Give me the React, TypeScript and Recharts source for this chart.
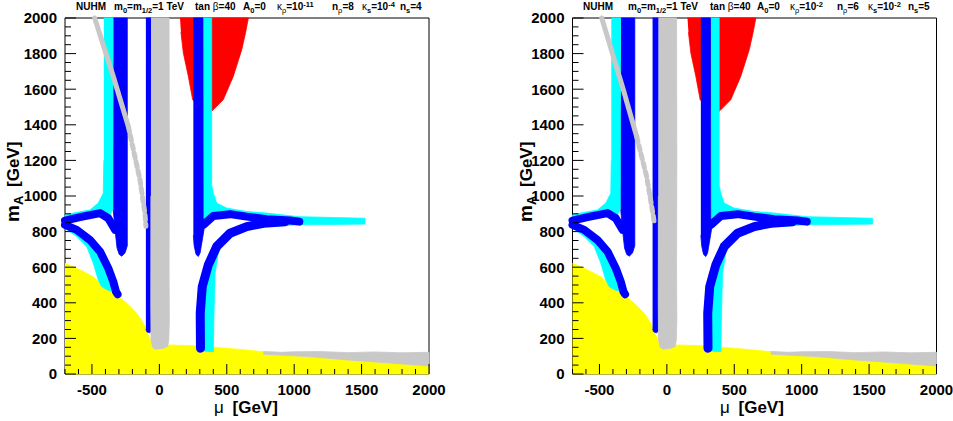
import React from 'react';
import { ScatterChart, Scatter, XAxis, YAxis, ReferenceLine } from 'recharts';

type P = [number, number];

// ---- axis ticks ----
const xTicks = [-700, -600, -500, -400, -300, -200, -100, 0, 100, 200, 300, 400, 500, 600, 700, 800, 900, 1000, 1100, 1200, 1300, 1400, 1500, 1600, 1700, 1800, 1900, 2000];
const xLabels = [-500, 0, 500, 1000, 1500, 2000];
const yTicks = [0, 50, 100, 150, 200, 250, 300, 350, 400, 450, 500, 550, 600, 650, 700, 750, 800, 850, 900, 950, 1000, 1050, 1100, 1150, 1200, 1250, 1300, 1350, 1400, 1450, 1500, 1550, 1600, 1650, 1700, 1750, 1800, 1850, 1900, 1950, 2000];
const yLabels = [0, 200, 400, 600, 800, 1000, 1200, 1400, 1600, 1800, 2000];

// ---- regions (mu, mA) in GeV ----
const yellow: P[] = [[-700, 622], [-613, 594], [-490, 547], [-416, 491], [-317, 444], [-242, 398], [-168, 341], [-119, 285], [-82, 219], [-45, 154], [-20, 139], [79, 163], [252, 159], [425, 149], [598, 138], [771, 125], [800, 112], [1100, 98], [1400, 79], [1700, 62], [2000, 45], [2000, 0], [-700, 0]];
const greyBottom: P[] = [[771, 127], [900, 122], [1000, 125], [1200, 126], [1400, 120], [1600, 124], [1800, 119], [2000, 122], [2000, 45], [1700, 62], [1400, 79], [1100, 98], [800, 110], [771, 112]];
const greyVertical: P[] = [[-62, 2000], [72, 2000], [74, 1200], [72, 600], [74, 300], [70, 190], [62, 155], [30, 145], [-30, 139], [-50, 150], [-62, 190], [-64, 400], [-63, 1000]];
const red: P[] = [[153, 2000], [660, 2000], [640, 1920], [611, 1822], [548, 1672], [474, 1541], [400, 1484], [380, 1470], [300, 1500], [247, 1541], [215, 1672], [178, 1803], [160, 1920]];
const cyanLeftUpper: P[] = [[-412, 2000], [-338, 2000], [-342, 930], [-379, 875], [-440, 904], [-589, 881], [-700, 862], [-700, 894], [-638, 904], [-515, 922], [-453, 960], [-416, 1016], [-412, 1200]];
const cyanLeftLower: P[] = [[-700, 838], [-613, 810], [-515, 753], [-440, 688], [-379, 594], [-342, 519], [-322, 463], [-380, 470], [-428, 491], [-453, 528], [-490, 622], [-539, 716], [-613, 772], [-700, 819]];
const cyanRight: P[] = [[323, 2000], [388, 2000], [388, 1060], [400, 1016], [425, 960], [499, 932], [648, 913], [796, 904], [1031, 884], [1525, 875], [1525, 842], [1031, 838], [796, 828], [648, 810], [548, 791], [474, 744], [437, 679], [413, 566], [405, 341], [400, 125], [305, 130], [305, 341], [318, 491], [363, 613], [425, 716], [524, 791], [648, 828], [771, 847], [796, 870], [648, 884], [524, 898], [400, 888], [340, 845], [325, 880]];
const blueLeftV: P[] = [[-340, 2000], [-238, 2000], [-238, 720], [-255, 680], [-279, 662], [-298, 672], [-314, 708], [-329, 810], [-342, 922]];
const blueRightV: P[] = [[252, 2000], [323, 2000], [325, 880], [335, 830], [320, 760], [302, 680], [289, 660], [272, 672], [258, 720], [252, 780]];
const upperLeftArm: P[] = [[-700, 862], [-589, 881], [-440, 904], [-379, 875], [-329, 810]];
const lowerLeftArm: P[] = [[-700, 838], [-613, 810], [-515, 753], [-440, 688], [-379, 594], [-342, 519], [-322, 463], [-310, 448]];
const upperRightArm: P[] = [[330, 840], [400, 888], [524, 898], [648, 884], [796, 870], [969, 862], [1038, 856]];
const lowerRightArm: P[] = [[305, 145], [303, 341], [318, 491], [363, 613], [425, 716], [524, 791], [648, 828], [771, 847], [932, 855]];

// panel-specific pieces
const thinBlueA: P[] = [[-100, 2000], [-60, 2000], [-60, 240], [-72, 232], [-92, 236], [-100, 250]];
const diagUpperA: P[] = [[-480, 2000], [-342, 1672], [-230, 1390]];
const diagLowerA: P[] = [[-230, 1390], [-144, 1091], [-107, 900], [-100, 830]];
const thinBlueB: P[] = [[-106, 2000], [-64, 2000], [-64, 240], [-76, 232], [-96, 236], [-106, 250]];
const diagUpperB: P[] = [[-483, 2000], [-323, 1597], [-224, 1334]];
const diagLowerB: P[] = [[-224, 1334], [-150, 1109], [-100, 884], [-92, 840]];

const FONT = '"Liberation Sans", Arial, Helvetica, sans-serif';
const YELLOW = '#ffff00';
const GREY = '#c8c8c8';
const RED = '#ff0000';
const CYAN = '#00ffff';
const BLUE = '#0000ff';

const pts = (a: P[]) => a.map(([x, y]) => ({ x, y }));
const Empty = () => <g />;

const poly = (key: string, a: P[], color: string) => (
  <Scatter key={key} data={pts(a)} fill={color} shape={Empty} lineType="joint"
    line={{ fill: color, stroke: color, strokeWidth: 0.8 }} isAnimationActive={false} />
);
const band = (key: string, a: P[], color: string, w: number, dash?: string) => (
  <Scatter key={key} data={pts(a)} fill={color} shape={Empty} lineType="joint"
    line={{ fill: 'none', stroke: color, strokeWidth: w, strokeLinejoin: 'round', strokeLinecap: 'round', strokeDasharray: dash }}
    isAnimationActive={false} />
);

const XTick = (props: any) => {
  const { x, y, payload } = props;
  const v = payload.value;
  const major = xLabels.includes(v);
  return (
    <g>
      <path d={`M${x},${y}L${x},${y - (major ? 10 : 5)}`} stroke="#000" strokeWidth={1} fill="none" />
      {major && (
        <text x={x} y={y + 21} textAnchor="middle" fontFamily={FONT} fontWeight="bold" fontSize={15} fill="#000">{v}</text>
      )}
    </g>
  );
};
const YTick = (props: any) => {
  const { x, y, payload } = props;
  const v = payload.value;
  const major = yLabels.includes(v);
  return (
    <g>
      <path d={`M${x},${y}L${x + (major ? 11 : 6)},${y}`} stroke="#000" strokeWidth={1} fill="none" />
      {major && (
        <text x={x - 8} y={y + 5.4} textAnchor="end" fontFamily={FONT} fontWeight="bold" fontSize={15} fill="#000">{v}</text>
      )}
    </g>
  );
};

type PanelProps = { left: number; width: number; mLeft: number; mRight: number; thin: P[]; dU: P[]; dL: P[] };

function Panel({ left, width, mLeft, mRight, thin, dU, dL }: PanelProps) {
  return (
    <div style={{ position: 'absolute', left, top: 0 }}>
      <ScatterChart width={width} height={421} margin={{ top: 18, right: mRight, bottom: 17, left: mLeft }}>
        {poly('yellow', yellow, YELLOW)}
        {poly('greyB', greyBottom, GREY)}
        {poly('red', red, RED)}
        {poly('cLU', cyanLeftUpper, CYAN)}
        {poly('cLL', cyanLeftLower, CYAN)}
        {poly('cR', cyanRight, CYAN)}
        {poly('bLV', blueLeftV, BLUE)}
        {poly('bRV', blueRightV, BLUE)}
        {band('uLA', upperLeftArm, BLUE, 8)}
        {band('lLA', lowerLeftArm, BLUE, 8)}
        {band('uRA', upperRightArm, BLUE, 8)}
        {band('lRA', lowerRightArm, BLUE, 9)}
        {poly('thin', thin, BLUE)}
        {poly('greyV', greyVertical, GREY)}
        {band('dU', dU, GREY, 5)}
        {band('dL', dL, GREY, 5, '5 4')}
        <ReferenceLine y={2000} stroke="#000" strokeWidth={1} />
        <ReferenceLine x={2000} stroke="#000" strokeWidth={1} />
        <XAxis type="number" dataKey="x" domain={[-700, 2000]} ticks={xTicks} interval={0} tickSize={0} tickMargin={0}
          height={30} tick={<XTick />} tickLine={false} axisLine={{ stroke: '#000' }} />
        <YAxis type="number" dataKey="y" domain={[0, 2000]} ticks={yTicks} interval={0} tickSize={0} tickMargin={0}
          width={40} tick={<YTick />} tickLine={false} axisLine={{ stroke: '#000' }} />
      </ScatterChart>
    </div>
  );
}

type Part = [string, 'n' | 's' | 'u'];
function Seg({ x, parts }: { x: number; parts: Part[] }) {
  let shift = 0;
  return (
    <text x={x} y={10} fontFamily={FONT} fontSize={10} fontWeight="bold" fill="#000">
      {parts.map(([t, k], i) => {
        const target = k === 's' ? 3 : k === 'u' ? -3.5 : 0;
        const dy = target - shift;
        shift = target;
        const greek = /[βκρ]/.test(t);
        return (
          <tspan key={i} dy={dy} fontSize={k === 'n' ? 10 : 7.5} fontWeight={greek ? 'normal' : 'bold'}>{t}</tspan>
        );
      })}
    </text>
  );
}

const titleA: [number, Part[]][] = [
  [76, [['NUHM', 'n']]],
  [114, [['m', 'n'], ['0', 's'], ['=m', 'n'], ['1/2', 's'], ['=1 TeV', 'n']]],
  [195, [['tan ', 'n'], ['β', 'n'], ['=40', 'n']]],
  [243, [['A', 'n'], ['0', 's'], ['=0', 'n']]],
  [277, [['κ', 'n'], ['ρ', 's'], ['=10', 'n'], ['-11', 'u']]],
  [332, [['n', 'n'], ['ρ', 's'], ['=8', 'n']]],
  [362, [['κ', 'n'], ['s', 's'], ['=10', 'n'], ['-4', 'u']]],
  [400, [['n', 'n'], ['s', 's'], ['=4', 'n']]],
];
const titleB: [number, Part[]][] = [
  [583, [['NUHM', 'n']]],
  [628, [['m', 'n'], ['0', 's'], ['=m', 'n'], ['1/2', 's'], ['=1 TeV', 'n']]],
  [710, [['tan ', 'n'], ['β', 'n'], ['=40', 'n']]],
  [757, [['A', 'n'], ['0', 's'], ['=0', 'n']]],
  [790, [['κ', 'n'], ['ρ', 's'], ['=10', 'n'], ['-2', 'u']]],
  [837, [['n', 'n'], ['ρ', 's'], ['=6', 'n']]],
  [868, [['κ', 'n'], ['s', 's'], ['=10', 'n'], ['-2', 'u']]],
  [908, [['n', 'n'], ['s', 's'], ['=5', 'n']]],
];

function AxisTitles({ muX, gevX, yBase }: { muX: number; gevX: number; yBase: number }) {
  return (
    <g fontFamily={FONT} fill="#000">
      <text x={muX} y={413} fontSize={17}>μ</text>
      <text x={gevX} y={413} fontSize={17} fontWeight="bold">[GeV]</text>
      <text transform={`rotate(-90 ${yBase} 222)`} x={yBase} y={222} fontSize={19} fontWeight="bold">
        m<tspan fontSize={13} dy={4}>A</tspan>
      </text>
      <text transform={`rotate(-90 ${yBase} 187)`} x={yBase} y={187} fontSize={17} fontWeight="bold">[GeV]</text>
    </g>
  );
}

export default function App() {
  return (
    <div style={{ position: 'absolute', left: 0, top: 0, width: 953, height: 421, background: '#fff' }}>
      <Panel left={0} width={476} mLeft={25} mRight={47} thin={thinBlueA} dU={diagUpperA} dL={diagLowerA} />
      <Panel left={476} width={477} mLeft={56.5} mRight={16.5} thin={thinBlueB} dU={diagUpperB} dL={diagLowerB} />
      <svg width={953} height={421} style={{ position: 'absolute', left: 0, top: 0, pointerEvents: 'none' }}>
        {titleA.map(([x, parts], i) => <Seg key={'a' + i} x={x} parts={parts} />)}
        {titleB.map(([x, parts], i) => <Seg key={'b' + i} x={x} parts={parts} />)}
        <AxisTitles muX={214} gevX={232.5} yBase={19} />
        <AxisTitles muX={720} gevX={738.5} yBase={532} />
      </svg>
    </div>
  );
}
